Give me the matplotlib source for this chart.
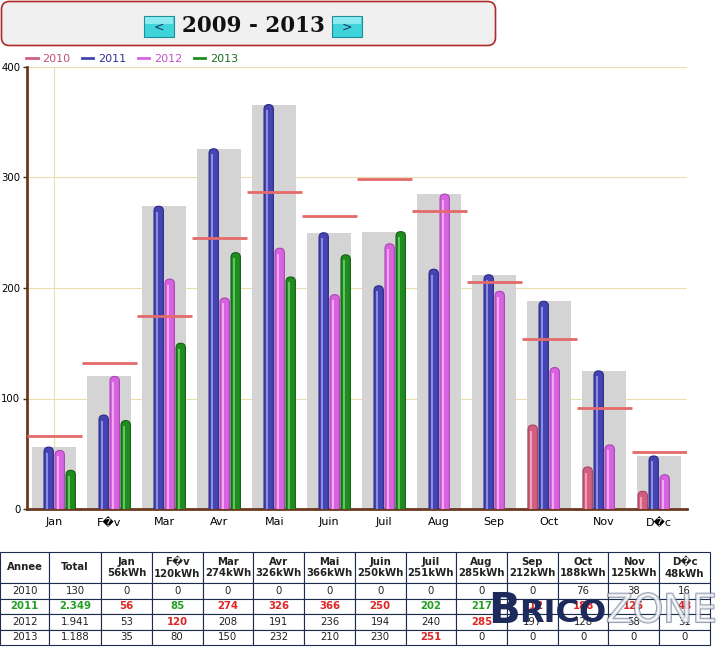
import matplotlib
matplotlib.use("Agg")
import matplotlib.pyplot as plt
import matplotlib.patheffects as pe
from matplotlib.lines import Line2D
from matplotlib.patches import FancyBboxPatch, Rectangle

MONTHS = ["Jan", "F\ufffdv", "Mar", "Avr", "Mai", "Juin",
          "Juil", "Aug", "Sep", "Oct", "Nov", "D\ufffdc"]
YEARS = ["2010", "2011", "2012", "2013"]
Y2010 = [0, 0, 0, 0, 0, 0, 0, 0, 0, 76, 38, 16]
Y2011 = [56, 85, 274, 326, 366, 250, 202, 217, 212, 188, 125, 48]
Y2012 = [53, 120, 208, 191, 236, 194, 240, 285, 197, 128, 58, 31]
Y2013 = [35, 80, 150, 232, 210, 230, 251, 0, 0, 0, 0, 0]
TARGET = [66, 132, 175, 245, 287, 265, 299, 270, 205, 154, 91, 52]
YTICKS = [0, 100, 200, 300, 400]

# base, highlight, edge
STYLE = {
    "2010": ("#d25f80", "#eea0b6", "#a84060"),
    "2011": ("#4444b2", "#8e8ee0", "#2a2a88"),
    "2012": ("#d862e0", "#f2a8f4", "#a846b4"),
    "2013": ("#1f8c1f", "#66c466", "#106010"),
}
TEXT_COL = {"2010": "#c0507a", "2011": "#30309a", "2012": "#c050c8", "2013": "#207020"}

series = dict(zip(YEARS, [Y2010, Y2011, Y2012, Y2013]))
month_max = [max(v) for v in zip(*series.values())]

W, H = 718, 648
fig = plt.figure(figsize=(W / 100, H / 100), dpi=100)

# ---- header box with buttons
hdr = fig.add_axes([0, 1 - 48 / H, 1, 48 / H])
hdr.set_xlim(0, W)
hdr.set_ylim(48, 0)
hdr.axis("off")
hdr.add_patch(FancyBboxPatch((1.5, 1.5), 494, 44, boxstyle="round,pad=0,rounding_size=8",
                             fc="#f0f0f0", ec="#b02a2a", lw=1.2))
for x0, s in [(144, "<"), (332, ">")]:
    hdr.add_patch(Rectangle((x0, 16), 30, 21, fc="#3fd3dc", ec="#1d8f98", lw=0.8))
    hdr.add_patch(Rectangle((x0 + 1, 17), 28, 7, fc="#8deaee", ec="none"))
    hdr.text(x0 + 15, 27, s, ha="center", va="center", fontsize=9, color="#203060")
hdr.text(253, 26, "2009 - 2013", ha="center", va="center", fontsize=15.5,
         fontweight="bold", family="DejaVu Serif", color="#111111")

# ---- main chart
ax = fig.add_axes([26.7 / W, (H - 509) / H, 660 / W, 442 / H])
ax.set_xlim(-0.5, 11.5)
ax.set_ylim(0, 400)
aspect = (660 / 12) / (442 / 400)

for v in YTICKS[1:]:
    ax.axhline(v, color="#ecdcb0", lw=0.8, zorder=0)
ax.axvline(0, color="#ecdcb0", lw=0.8, zorder=0)

xs = list(range(len(MONTHS)))
ax.bar(xs, month_max, width=0.8, color="#d4d4d4", zorder=1)

bw = 0.17
offsets = [-0.3, -0.1, 0.1, 0.3]
for off, yr in zip(offsets, YEARS):
    base, light, edge = STYLE[yr]
    for i, v in enumerate(series[yr]):
        if v <= 0:
            continue
        x = i + off
        ax.add_patch(FancyBboxPatch((x - bw / 2, -10), bw, v + 10,
                                    boxstyle=f"round,pad=0,rounding_size={bw / 2}",
                                    mutation_aspect=aspect, fc=base, ec=edge,
                                    lw=0.8, zorder=3))
        ax.add_patch(Rectangle((x - bw / 2 + 0.03, 0), 0.045, max(v - 5, 0),
                               fc=light, ec="none", zorder=4))

ax.hlines(TARGET, [i - 0.5 for i in xs], [i + 0.5 for i in xs],
          color="#e46a6a", lw=2, zorder=5)

for s in ["top", "right"]:
    ax.spines[s].set_visible(False)
for s in ["left", "bottom"]:
    ax.spines[s].set_color("#6b3a1e")
    ax.spines[s].set_linewidth(2)
ax.set_yticks(YTICKS)
ax.set_xticks(xs)
ax.set_xticklabels(MONTHS)
ax.tick_params(axis="y", labelsize=7.3, length=3, width=1, color="#333333", pad=1.5)
ax.tick_params(axis="x", labelsize=8, length=0, pad=6)

handles = [Line2D([0], [0], color=STYLE[y][0], lw=2) for y in YEARS]
leg = fig.legend(handles, YEARS, loc="center left", bbox_to_anchor=(22 / W, 1 - 59 / H),
                 ncol=4, frameon=False, fontsize=8, handlelength=1.0,
                 handletextpad=0.4, columnspacing=1.1, borderaxespad=0)
for t, y in zip(leg.get_texts(), YEARS):
    t.set_color(TEXT_COL[y])

# ---- table
totals = [sum(series[y]) for y in YEARS]
best = totals.index(max(totals))
header = ["Annee", "Total"] + [f"{m}\n{mx}kWh" for m, mx in zip(MONTHS, month_max)]
rows = []
for y, t in zip(YEARS, totals):
    rows.append([y, f"{t:,}".replace(",", ".")] + [str(v) for v in series[y]])

tax = fig.add_axes([0, 3 / H, 710 / W, 93 / H])
tax.axis("off")
tbl = tax.table(cellText=[header] + rows, cellLoc="center", bbox=[0, 0, 1, 1])
tbl.auto_set_font_size(False)
tbl.set_fontsize(7.3)
col_w = [49, 52] + [50.75] * 12
for (r, c), cell in tbl.get_celld().items():
    cell.set_width(col_w[c])
    cell.set_height(2 if r == 0 else 1)
    cell.set_edgecolor("#1c2c4c")
    cell.set_linewidth(0.8)
    cell.set_facecolor("white")
    txt = cell.get_text()
    txt.set_color("#222222")
    if r == 0:
        txt.set_fontweight("bold")
        continue
    yi = r - 1
    if yi == best:
        txt.set_fontweight("bold")
        txt.set_color("#22a022")
    if c >= 2:
        v = series[YEARS[yi]][c - 2]
        if v > 0 and v == month_max[c - 2]:
            txt.set_color("#e02424")
            txt.set_fontweight("bold")

# watermark
fig.text(488 / W, 1 - 611 / H, "B", fontsize=30, fontweight="bold", color="#1c2a5c",
         va="center", ha="left")
fig.text(519 / W, 1 - 614 / H, "RICO", fontsize=23, fontweight="bold", color="#1c2a5c",
         va="center", ha="left")
fig.text(606 / W, 1 - 611 / H, "ZONE", fontsize=28, color="white", alpha=0.6,
         va="center", ha="left",
         path_effects=[pe.withStroke(linewidth=1.5, foreground="#5a6a8a")])

fig.savefig("out.png", dpi=100)
